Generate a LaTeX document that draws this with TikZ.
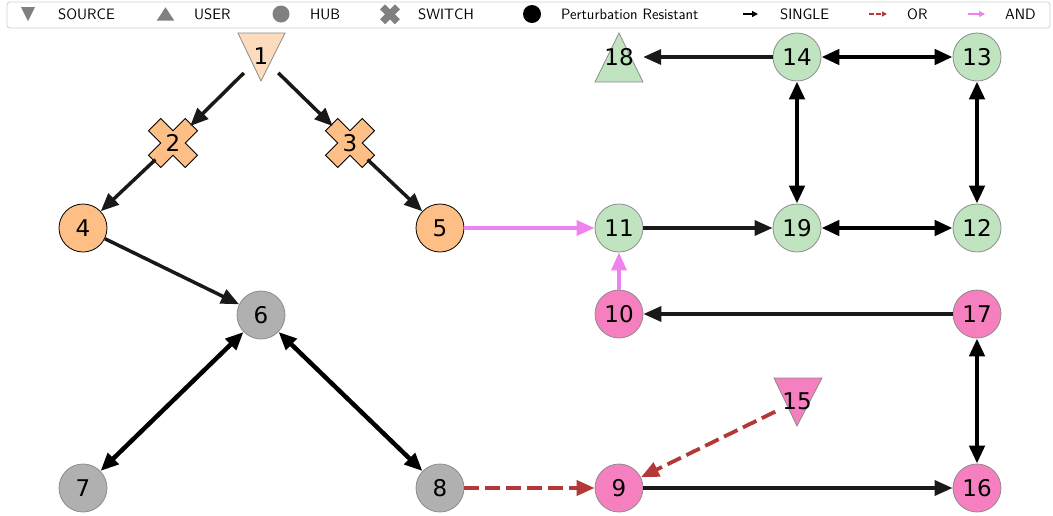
\documentclass[tikz,border=0pt]{standalone}
\usepackage{fontspec}
\newfontfamily\numfont{DejaVu Sans}
\usetikzlibrary{arrows.meta}

\definecolor{hubgray}{RGB}{176,176,176}
\definecolor{sworange}{RGB}{253,191,134}
\definecolor{srcpeach}{RGB}{253,220,190}
\definecolor{mintgreen}{RGB}{192,228,192}
\definecolor{rosepink}{RGB}{246,128,191}
\definecolor{orred}{RGB}{180,56,56}
\definecolor{andviolet}{RGB}{238,130,238}
\definecolor{legendgray}{RGB}{128,128,128}
\definecolor{rimgray}{RGB}{140,140,140}

\begin{document}
\begin{tikzpicture}[x=1pt,y=-1pt,
  numfont/.style={font=\numfont\fontsize{23}{23}\selectfont},
  vertex/.style={circle, minimum size=48pt, inner sep=0pt, draw=rimgray, line width=0.8pt, numfont},
  blackrim/.style={draw=black},
  hotspot/.style={circle, minimum size=48pt, inner sep=0pt, numfont},
  shapefill/.style={draw=rimgray, line width=0.8pt},
  single/.style={line width=3.5pt, draw=black!90, -{Triangle[length=18pt,width=15pt]}},
  both/.style={line width=4.5pt, draw=black, {Triangle[length=18pt,width=15pt]}-{Triangle[length=18pt,width=15pt]}},
  oredge/.style={line width=3.8pt, draw=orred, dash pattern=on 15pt off 6pt, -{Triangle[length=18pt,width=15pt]}},
  andedge/.style={line width=3.5pt, draw=andviolet, -{Triangle[length=18pt,width=15pt]}},
  legendtext/.style={anchor=base west, inner sep=0pt, font=\sffamily\fontsize{15}{15}\selectfont},
]
\useasboundingbox (0,0) rectangle (1053,515);

% ---------- legend ----------
\draw[rounded corners=3pt, draw=black!18, fill=white, line width=0.8pt] (7,2) rectangle (1050,28);
\fill[legendgray] (21,7) -- (35,7) -- (28,21) -- cycle;
\node[legendtext] (lgsource) at (58,19.5) {SOURCE};
\fill[legendgray] (156.7,20.7) -- (174.3,20.7) -- (165.5,7.3) -- cycle;
\node[legendtext] (lguser) at (194,19.5) {USER};
\fill[legendgray] (281,14) circle (8.5);
\node[legendtext] (lghub) at (310,19.5) {HUB};
\begin{scope}[shift={(390,14.3)}, rotate=45, x=3.5pt, y=3.5pt]
  \fill[legendgray] (-1,-3) -- (1,-3) -- (1,-1) -- (3,-1) -- (3,1) -- (1,1) -- (1,3) -- (-1,3) -- (-1,1) -- (-3,1) -- (-3,-1) -- (-1,-1) -- cycle;
\end{scope}
\node[legendtext] (lgswitch) at (418,19.5) {SWITCH};
\fill[black] (532,14) circle (9);
\node[legendtext] (lgresist) at (561,19.5) {Perturbation Resistant};
\coordinate (sa) at (743,14); \coordinate (sb) at (758,14);
\draw[line width=1.5pt, -{Triangle[length=6pt,width=6pt]}] (sa) -- (sb);
\node[legendtext] (lgsingle) at (780,19.5) {SINGLE};
\coordinate (oa) at (869,14); \coordinate (ob) at (887,14);
\draw[line width=1.5pt, draw=orred, dash pattern=on 4.5pt off 2.5pt, -{Triangle[length=5pt,width=5pt]}] (oa) -- (ob);
\node[legendtext] (lgor) at (907,19.5) {OR};
\coordinate (aa) at (968,14); \coordinate (ab) at (985,14);
\draw[line width=1.2pt, draw=andviolet, -{Triangle[length=6pt,width=6pt]}] (aa) -- (ab);
\node[legendtext] (lgand) at (1005,19.5) {AND};

% ---------- marker shapes (triangles and crosses) ----------
\fill[srcpeach, shapefill] (238,33) -- (285,33) -- (261,81) -- cycle;
\fill[rosepink, shapefill] (774,378) -- (822,378) -- (797,426) -- cycle;
\fill[mintgreen, shapefill] (595,82) -- (643,82) -- (619,33) -- cycle;
\foreach \cx/\cy in {173/143, 350/143}{
  \begin{scope}[shift={(\cx,\cy)}, rotate=45, x=8.66pt, y=8.66pt]
    \filldraw[fill=sworange, draw=black, line width=0.8pt]
      (-1,-3) -- (1,-3) -- (1,-1) -- (3,-1) -- (3,1) -- (1,1) -- (1,3) -- (-1,3) -- (-1,1) -- (-3,1) -- (-3,-1) -- (-1,-1) -- cycle;
  \end{scope}
}

% ---------- nodes ----------
\node[hotspot] (n1) at (261,56) {1};
\node[hotspot] (n2) at (173,143) {2};
\node[hotspot] (n3) at (350,143) {3};
\node[vertex, blackrim, fill=sworange] (n4) at (83,228) {4};
\node[vertex, blackrim, fill=sworange] (n5) at (440,228) {5};
\node[vertex, fill=hubgray] (n6) at (261,315) {6};
\node[vertex, fill=hubgray] (n7) at (83,488) {7};
\node[vertex, fill=hubgray] (n8) at (440,488) {8};
\node[vertex, fill=rosepink] (n9) at (619,488) {9};
\node[vertex, fill=rosepink] (n10) at (619,314) {10};
\node[vertex, fill=mintgreen] (n11) at (619,228) {11};
\node[vertex, fill=mintgreen] (n12) at (977,228) {12};
\node[vertex, fill=mintgreen] (n13) at (977,57) {13};
\node[vertex, fill=mintgreen] (n14) at (797,57) {14};
\node[hotspot] (n15) at (797,401) {15};
\node[vertex, fill=rosepink] (n16) at (977,488) {16};
\node[vertex, fill=rosepink] (n17) at (977,314) {17};
\node[hotspot] (n18) at (619,57) {18};
\node[vertex, fill=mintgreen] (n19) at (797,228) {19};

% ---------- connectors ----------
\draw[single] (n1) -- (n2);
\draw[single] (n1) -- (n3);
\draw[single] (n2) -- (n4);
\draw[single] (n3) -- (n5);
\draw[single] (n4) -- (n6);
\draw[both] (n6) -- (n7);
\draw[both] (n6) -- (n8);
\draw[oredge] (n8) -- (n9);
\draw[oredge] (n15) -- (n9);
\draw[single] (n9) -- (n16);
\draw[both] (n16) -- (n17);
\draw[single] (n17) -- (n10);
\draw[andedge] (n10) -- (n11);
\draw[andedge] (n5) -- (n11);
\draw[single] (n11) -- (n19);
\draw[both] (n19) -- (n12);
\draw[both] (n12) -- (n13);
\draw[both] (n13) -- (n14);
\draw[both] (n14) -- (n19);
\draw[single] (n14) -- (n18);
\end{tikzpicture}
\end{document}
